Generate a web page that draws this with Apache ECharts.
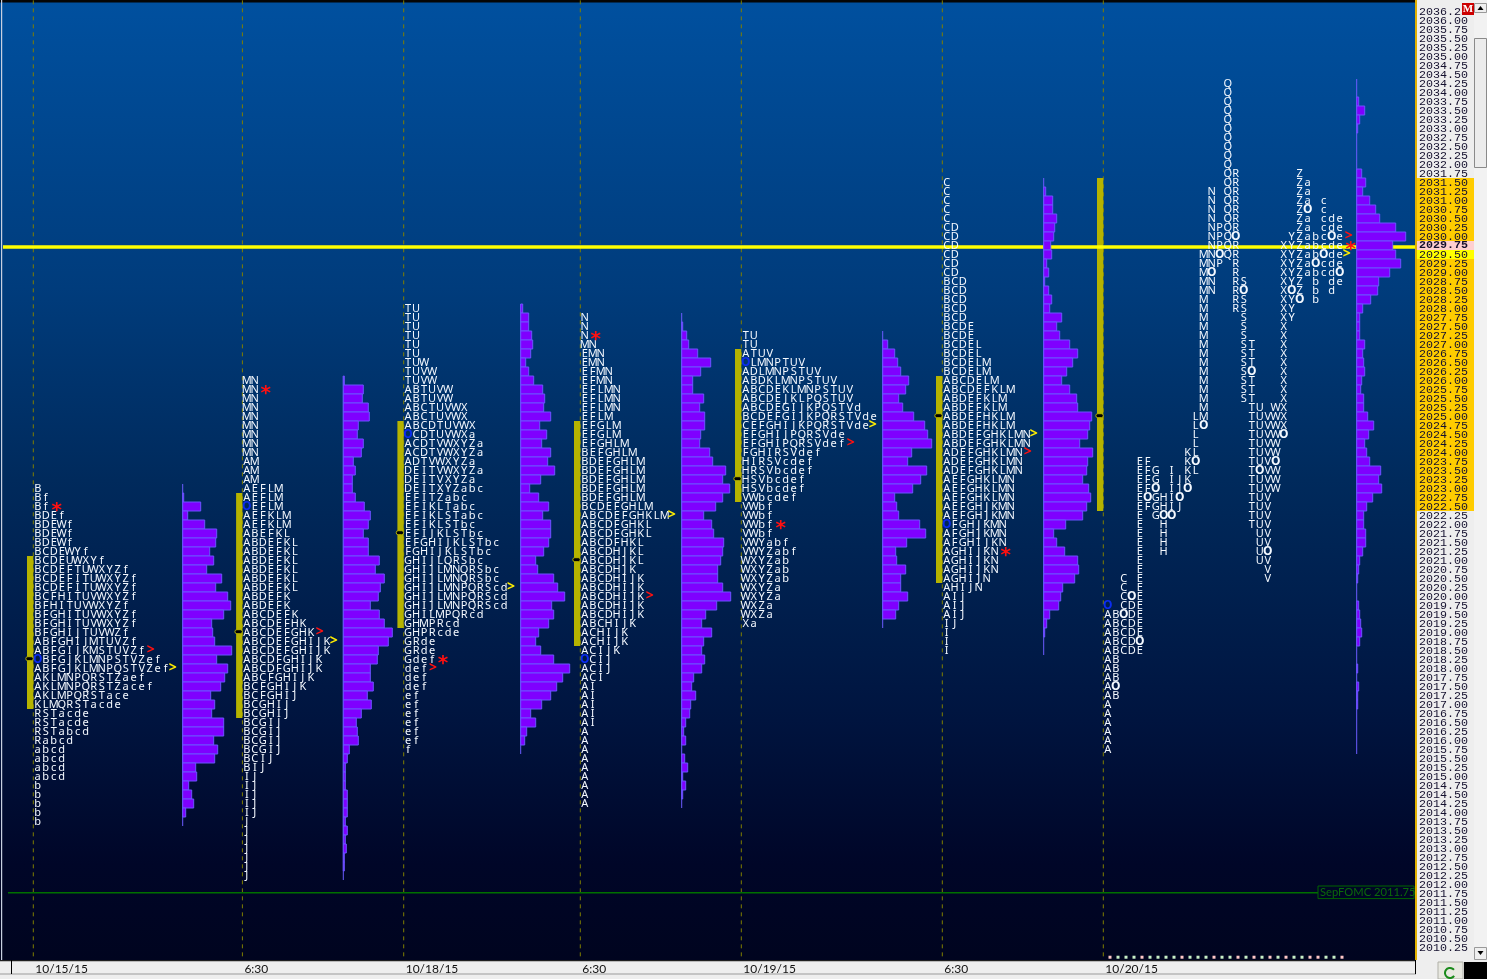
<!DOCTYPE html>
<html><head><meta charset="utf-8">
<style>html,body{margin:0;padding:0;background:#f0f0f0;overflow:hidden}#c{width:1487px;height:979px}</style>
<script src="https://cdn.jsdelivr.net/npm/echarts@6/dist/echarts.min.js"></script>
</head><body><div id="c"></div>
<script>
// ---- data ----
const sessionLabels = ['10/15/15','6:30','10/18/15','6:30','10/19/15','6:30','10/20/15'];
const rowTop = [2023, 2026, 2028, 2027.75, 2027.25, 2031.5, 2034.25];

const rows1 = ['B','Bf','Bf','BDEf','BDEWf','BDEWf','BDEWf','BCDEWYf','BCDEUWXYf','BCDEFTUWXYZf','BCDEFITUWXYZf','BCDEFITUWXYZf','BCFHITUVWXYZf','BFHITUVWXYZf','BFGHITUVWXYZf','BFGHITUVWXYZf','BFGHIJTUVWZf','ABFGHIJMTUVZf','ABFGIJKMSTUVZf','?BFGJKLMNPSTVZef','ABFGJKLMNPQSTVZef','AKLMNPQRSTZaef','AKLMNPQRSTZacef','AKLMPQRSTace','KLMQRSTacde','RSTacde','RSTacde','RSTabcd','Rabcd','abcd','abcd','abcd','abcd','b','b','b','b','b'];
const bars1 = [0,1,18,5,22,34,33,27,31,24,39,33,45,48,41,29,30,32,49,34,45,42,38,28,32,29,41,41,31,35,32,13,14,6,9,11,3,0];

const rows2 = ['MN','MN','MN','MN','MN','MN','MN','MN','MN','AM','AM','AM','AEFLM','AEFLM','?EFLM','AEFKLM','AEFKLM','ABEFKL','ABDEFKL','ABDEFKL','ABDEFKL','ABDEFKL','ABDEFKL','ABDEFKL','ABDEFK','ABDEFK','ABCDEFK','ABCDEFHK','ABCDEFGHK','ABCDEFGHIJK','ABCDEFGHIJK','ABCDFGHIJK','ABCDFGHIJK','ABCFGHIJK','BCFGHIJK','BCFGHIJ','BCGHIJ','BCGHIJ','BCGIJ','BCGIJ','BCGIJ','BCGIJ','BCIJ','BIJ','IJ','IJ','IJ','IJ','IJ','J','J','J','J','J','J','J'];
const bars2 = [1,20,19,25,26,15,14,20,18,10,12,9,9,12,21,27,25,20,25,25,36,32,41,37,35,27,36,41,49,45,35,34,27,27,30,24,28,18,13,14,15,6,4,2,2,2,4,4,4,2,4,2,3,1,1,0];

const rows3 = ['TU','TU','TU','TU','TU','TU','TUW','TUVW','TUVW','ABTUVW','ABTUVW','ABCTUVWX','ABCTUVWX','ABCDTUVWX','?CDTUVWXa','ACDTVWXYZa','ACDTVWXYZa','ADTVWXYZa','DEITVWXYZa','DEITVXYZa','DEITXYZabc','EFITZabc','EFIKLTabc','EFIKLSTabc','EFIKLSTbc','EFIJKLSTbc','EFGHIJKLSTbc','FGHIJKLSTbc','GHIJLQRSbc','GHIJLMNQRSbc','GHIJLMNQRSbc','GHIJLMNPQRScd','GHIJLMNPQRScd','GHIJLMNPQRScd','GHILMPQRcd','GHMPRcd','GHPRcde','GRde','GRde','Gdef','def','def','def','ef','ef','ef','ef','ef','ef','f'];
const bars3 = [2,8,8,11,12,10,5,8,13,22,24,23,30,19,26,21,30,27,34,20,9,18,28,22,30,30,28,23,15,17,33,37,44,31,33,28,18,15,20,33,49,42,36,30,21,10,15,6,4,0];

const rows4 = ['N','N','N','MN','EMN','EMN','EFMN','EFMN','EFLMN','EFLMN','EFLMN','EFLM','EFGLM','EFGLM','EFGHLM','BEFGHLM','BDEFGHLM','BDEFGHLM','BDEFGHLM','BDEFGHLM','BDEFGHLM','BCDEFGHLM','ABCDEFGHKLM','ABCDFGHKL','ABCDFGHKL','ABCDFHKL','ABCDHJKL','ABCDHJKL','ABCDHJK','ABCDHIJK','ABCDHIJK','ABCDHIJK','ABCDHIJK','ABCDHIJK','ABCHIJK','ACHIJK','ACHIJK','ACIJK','?CIJ','ACIJ','ACI','AI','AI','AI','AI','AI','A','A','A','A','A','A','A','A','A'];
const bars4 = [0,1,5,7,16,29,19,11,11,22,18,23,23,19,18,28,31,44,41,48,41,34,22,30,32,42,41,39,36,36,41,49,35,24,20,30,22,20,23,20,12,10,14,9,8,4,2,4,0,3,6,1,4,1,0];

const rows5 = ['TU','TU','ATUV','?LMNPTUV','ADLMNPSTUV','ABDKLMNPSTUV','ABCDEKLMNPSTUV','ABCDEJKLPQSTUV','ABCDEGIJKPQSTVd','BCDEFGIJKPQRSTVde','CEFGHIJKPQRSTVde','EFGHIJPQRSVde','EFGHIPQRSVdef','FGHIRSVdef','HIRSVcdef','HRSVbcdef','HSVbcdef','HSVbcdef','VWbcdef','VWbf','VWbf','VWbf','VWbf','VWYabf','VWYZabf','WXYZab','WXYZab','WXYZab','WXYZa','WXYZa','WXZa','WXZa','Xa'];
const bars5 = [0,5,12,15,18,26,23,16,20,31,42,45,49,29,25,44,38,30,12,14,16,37,43,24,13,14,23,18,18,25,16,13,0];

const rows6 = ['C','C','C','C','C','CD','CD','CD','CD','CD','CD','BCD','BCD','BCD','BCD','BCD','BCDE','BCDE','BCDEL','BCDEL','BCDELM','BCDELM','ABCDELM','ABCDEFKLM','ABDEFKLM','ABDEFKLM','ABDEFHKLM','ABDEFHKLM','ABDEFGHKLMN','ABDEFGHKLMN','ADEFGHKLMN','ADEFGHKLMN','ADEFGHKLMN','AEFGHKLMN','AEFGHKLMN','AEFGHKLMN','AEFGHJKMN','AEFGHJKMN','?FGHJKMN','AFGHJKMN','AFGHIJKN','AGHIJKN','AGHIJKN','AGHIJKN','AGHIJN','AHIJN','AIJ','AIJ','AIJ','IJ','I','I','I'];
const bars6 = [0,2,9,9,13,11,10,7,8,3,5,1,5,8,6,18,13,16,26,34,29,23,18,26,33,34,48,46,44,36,49,44,43,39,45,47,43,39,22,10,13,21,34,35,31,19,17,15,6,3,1,0,0];

// session 7 is split: each letter keeps its own period column; ! = period marker O in that column, ? = open marker
const periodColumns = 'ABCDEFGHIJKLMNPQRSTUVWXYZabcde';
const rows7 = ['Q','Q','Q','Q','Q','Q','Q','Q','Q','Q','QRZ','QRZa','NQRZa','NQRZac','NQRZ!ac','NQRZacde','NPQRZacde','NPQ!RYZabc!de','NPQRXYZabcde','MN!PQRXYZab!cde','MNPRXYZa!bcde','M!NRXYZabcd!e','MNRSXYZbde','MNR!SX!YZbd','MRSXY!Zb','MRSXY','MSXY','MSX','MSX','MSTX','MSTX','MSTX','MS!TX','MSTX','MSTX','MSTX','MTUWX','LMTUVWX','L!MTUVWX','LTUVW!X','LTUVW','KLTUVW','EFK!LTUV!W','EFGIKLT!UVW','EFGIJKTUVW','EF!GIJ!KTUVW','E!FGHI!JTUV','EFGHIJTUV','EG!H!ITUV','EHTUV','EHUV','EHUV','EHU!V','EUV','EV','CEV','CE','C!DE','?CDE','AB!CDE','ABCDE','ABCDE','ABCD!E','ABCDE','AB','AB','AB','A!B','AB','A','A','A','A','A','A'];
const bars7 = [0,0,2,8,3,1,0,0,0,0,5,9,6,13,19,23,39,49,36,39,44,33,22,21,14,6,3,3,3,8,6,7,8,5,4,7,7,11,17,12,8,10,13,24,22,25,16,10,7,7,9,9,6,3,2,1,0,0,2,3,4,5,3,0,0,1,0,2,1,1,0,0,0,0,0];

const vaHigh = [2021.125, 2022.875, 2024.875, 2024.875, 2026.875, 2026.125, 2031.625];
const vaLow  = [2016.875, 2016.625, 2019.125, 2018.625, 2022.625, 2020.375, 2022.375];
const vaPoc  = [2018.25, 2019, 2021.75, 2021, 2023.25, 2025, 2025];

const redStars    = [2022.5, 2025.75, 2018.25, 2027.25, 2022, 2021.25, 2029.75];
const redArrows   = [2018.5, 2019, 2018, 2020, 2024.25, 2024, 2030];
const yellowArrows= [2018, 2018.75, 2020.25, 2022.25, 2024.75, 2024.5, 2029.5];

const lastPrice = 2029.75;
const refLevel = 2011.75, refName = 'SepFOMC 2011.75';
const goldHigh = 2031.5, goldLow = 2022.5, nextPrice = 2029.5;
const periodDotKinds = [1,0,0,0,1,0,0,0,0,1,0,0,0,1,0,0,1,0,1,0,1,0,1,0,0,1,1,0,0,1]; // 1 pink, 0 green

// ---- layout on the x axis (session placement) ----
const sessionX = [33.3, 242.4, 403.7, 580.3, 741.3, 942.3, 1103.3];
const histX = [182.7, 343.3, 520.7, 681.7, 882.7, 1043.7, 1356.7];
const allRows = [rows1,rows2,rows3,rows4,rows5,rows6,rows7];
const allBars = [bars1,bars2,bars3,bars4,bars5,bars6,bars7];
const CELL = 8, OFFS = 4.4, TICK = 0.25;

// build marks
const letters = [], histRects = [], stems = [], markers = [];
allRows.forEach((rows, s) => {
  const top = rowTop[s], split = s === 6;
  const lens = {};
  rows.forEach((row, r) => {
    const price = top - r * TICK;
    let cell = 0, maxCell = 0, bold = false;
    for (const ch of row) {
      if (ch === '!') { bold = true; continue; }
      let col = cell, text = ch, kind = 0;
      if (ch === '?') { text = 'O'; kind = 2; col = split ? 0 : cell; }
      else {
        if (split) col = periodColumns.indexOf(ch);
        if (bold) { text = 'O'; kind = 1; bold = false; }
      }
      letters.push({ value: [sessionX[s] + OFFS + col * CELL, price], t: text, k: kind });
      cell++; maxCell = Math.max(maxCell, col + 1);
    }
    lens[price] = maxCell;
    const b = allBars[s][r];
    if (b > 0) histRects.push([histX[s], price, b]);
  });
  stems.push([histX[s], top + TICK / 2, top - (rows.length - 1) * TICK - TICK / 2]);
  const col = p => sessionX[s] + OFFS + (lens[p] || 0) * CELL;
  markers.push({ value: [col(redStars[s]) + 3, redStars[s]], t: '*', k: 0 });
  markers.push({ value: [col(redArrows[s]) + 1, redArrows[s]], t: '>', k: 1 });
  markers.push({ value: [col(yellowArrows[s]) - 1, yellowArrows[s]], t: '>', k: 2 });
});

const priceLabel = v => v.toFixed(2);
const chart = echarts.init(document.getElementById('c'), null, { renderer: 'canvas' });

const LETTER_FONT = '11px "Noto Sans"';
const series = [
  { type: 'custom', name: 'sessions', z: 1, silent: true, clip: false, data: sessionX.map(x => [x]),
    encode: { x: 0 },
    renderItem: (p, api) => {
      const a = api.coord([api.value(0), 2036.56]), b = api.coord([api.value(0), 2009.9]);
      return { type: 'line', shape: { x1: a[0], y1: a[1], x2: b[0], y2: b[1] },
        style: { stroke: '#7f7f00', lineWidth: 1, lineDash: [4, 4] } };
    } },
  { type: 'custom', name: 'value area', z: 2, silent: true, clip: false,
    data: sessionX.map((x, i) => [x, vaHigh[i], vaLow[i], vaPoc[i]]),
    encode: { x: 0, y: [1, 2] },
    renderItem: (p, api) => {
      const x = api.value(0), a = api.coord([x, api.value(1)]), b = api.coord([x, api.value(2)]), c = api.coord([x, api.value(3)]);
      return { type: 'group', children: [
        { type: 'rect', shape: { x: a[0] - 6.3, y: a[1], width: 6.3, height: b[1] - a[1] }, style: { fill: '#b5b300' } },
        { type: 'rect', shape: { x: c[0] - 7.5, y: c[1] - 2.8, width: 7.5, height: 4, r: 2 }, style: { fill: '#000', stroke: '#b5b300', lineWidth: 1 } }
      ] };
    } },
  { type: 'custom', name: 'levels', z: 3, silent: true, clip: false,
    data: [[lastPrice, 0], [refLevel, 1]], encode: { y: 0 },
    renderItem: (p, api) => {
      const k = api.value(1), v = api.value(0);
      const y = api.coord([0, v])[1];
      if (k === 0) return { type: 'line', shape: { x1: 3, y1: y + 1.5, x2: 1415, y2: y + 1.5 }, style: { stroke: '#ffff00', lineWidth: 3.5 } };
      return { type: 'group', children: [
        { type: 'line', shape: { x1: 8, y1: y - 0.7, x2: 1318, y2: y - 0.7 }, style: { stroke: '#007000', lineWidth: 1.5 } },
        { type: 'rect', shape: { x: 1318, y: y - 7.5, width: 96, height: 12.6 }, style: { fill: 'transparent', stroke: '#006400', lineWidth: 1 } },
        { type: 'text', x: 1320, y: y - 1, style: { text: refName, fill: '#0a6a0a', font: '11.2px Lato', verticalAlign: 'middle', align: 'left' } }
      ] };
    } },
  { type: 'custom', name: 'histogram stems', z: 4, silent: true, clip: false, data: stems,
    encode: { x: 0, y: [1, 2] },
    renderItem: (p, api) => {
      const a = api.coord([api.value(0), api.value(1)]), b = api.coord([api.value(0), api.value(2)]);
      return { type: 'line', shape: { x1: a[0], y1: a[1], x2: b[0], y2: b[1] }, style: { stroke: '#6a5cff', lineWidth: 1 } };
    } },
  { type: 'custom', name: 'histogram', z: 4, silent: true, clip: false, data: histRects,
    encode: { x: 0, y: 1 },
    renderItem: (p, api) => {
      const x = api.value(0), v = api.value(1), len = api.value(2);
      const a = api.coord([x, v + TICK / 2]), b = api.coord([x + len, v - TICK / 2]);
      return { type: 'rect', shape: { x: a[0], y: a[1], width: b[0] - a[0], height: b[1] - a[1] },
        style: { fill: '#7f00ff', stroke: '#6a55ff', lineWidth: 1 } };
    } },
  { type: 'custom', name: 'letters', z: 5, silent: true, clip: false, data: letters,
    encode: { x: 0, y: 1 }, progressive: 0,
    renderItem: (p, api) => {
      const d = letters[p.dataIndex], c = api.coord([api.value(0), api.value(1)]);
      const fill = d.k === 2 ? '#0a2cf0' : '#f4f9ff';
      const font = d.k === 0 ? LETTER_FONT : 'bold 12px "Noto Sans"';
      return { type: 'text', x: c[0], y: c[1], style: { text: d.t, fill, font, align: 'center', verticalAlign: 'middle' } };
    } },
  { type: 'custom', name: 'markers', z: 6, silent: true, clip: false, data: markers,
    encode: { x: 0, y: 1 },
    renderItem: (p, api) => {
      const d = markers[p.dataIndex], c = api.coord([api.value(0), api.value(1)]);
      const star = d.k === 0;
      return { type: 'text', x: c[0], y: c[1] + (star ? 4 : 0), style: { text: d.t,
        fill: d.k === 2 ? '#ffee00' : '#ff1010', font: star ? 'bold 20px "DejaVu Sans"' : 'bold 14px "Noto Sans"',
        align: 'center', verticalAlign: 'middle' } };
    } },
  { type: 'custom', name: 'price strips', z: 1, silent: true, clip: false,
    data: [[goldHigh, goldLow, 0], [lastPrice, lastPrice, 1], [nextPrice, nextPrice, 2]],
    encode: { y: [0, 1] },
    renderItem: (p, api) => {
      const a = api.coord([1417, api.value(0) + TICK / 2]), b = api.coord([1474, api.value(1) - TICK / 2]);
      const k = api.value(2);
      return { type: 'rect', shape: { x: a[0], y: a[1], width: b[0] - a[0], height: b[1] - a[1] },
        style: { fill: ['#ffcc00', '#ffd0d0', '#ffff00'][k] } };
    } },
  { type: 'custom', name: 'period dots', z: 5, silent: true, clip: false,
    data: periodDotKinds.map((k, i) => [1110 + i * CELL, 2009.98, k]), encode: { x: 0, y: 1 },
    renderItem: (p, api) => {
      const c = api.coord([api.value(0), api.value(1)]);
      return { type: 'rect', shape: { x: c[0] - 1.5, y: c[1] - 1.5, width: 3, height: 3 },
        style: { fill: api.value(2) ? '#ffc8c8' : '#c8f0c8' } };
    } }
];

const g = [
  { type: 'rect', z: -2, shape: { x: 0, y: 0, width: 1415, height: 960 }, style: { fill: new echarts.graphic.LinearGradient(0, 0, 0, 1, [
    { offset: 0, color: '#00509f' }, { offset: 0.3, color: '#003c7c' }, { offset: 0.5, color: '#002a5c' }, { offset: 0.75, color: '#00143f' }, { offset: 0.9, color: '#000628' }, { offset: 1, color: '#00041f' } ]) } },
  { type: 'rect', z: -1, shape: { x: 0, y: 0, width: 1415, height: 2.5 }, style: { fill: '#050505' } },
  { type: 'rect', z: -1, shape: { x: 1, y: 0, width: 1.2, height: 960 }, style: { fill: '#c8d0e0' } },
  { type: 'rect', z: -2, shape: { x: 1415, y: 0, width: 2, height: 960 }, style: { fill: '#e0b000' } },
  { type: 'rect', z: -2, shape: { x: 1417, y: 0, width: 57, height: 960 }, style: { fill: '#eeeeee' } },
  { type: 'rect', z: -2, shape: { x: 1474, y: 0, width: 13, height: 960 }, style: { fill: '#f2f2f2' } },
  { type: 'rect', z: 90, shape: { x: 0, y: 960, width: 1487, height: 19 }, style: { fill: '#eeeeee' } },
  { type: 'rect', z: 91, shape: { x: 0, y: 960, width: 1416, height: 1.2 }, style: { fill: '#202020' } },
  { type: 'rect', z: 91, shape: { x: 0, y: 973.5, width: 1416, height: 1 }, style: { fill: '#9a9a9a' } },
  { type: 'rect', z: 91, shape: { x: 11, y: 960, width: 1, height: 14 }, style: { fill: '#000' } },
  { type: 'rect', z: 91, shape: { x: 1415, y: 960, width: 1, height: 14 }, style: { fill: '#000' } },
  { type: 'rect', z: 91, shape: { x: 1438, y: 962, width: 25, height: 17 }, style: { fill: '#e8e8e0', stroke: '#b0b0a8' } },
  { type: 'rect', z: 91, shape: { x: 1464, y: 962, width: 23, height: 17 }, style: { fill: '#000' } },
  { type: 'arc', z: 92, shape: { cx: 1450, cy: 973, r: 5, startAngle: 0.6, endAngle: 5.6 }, style: { fill: 'none', stroke: '#1a8a1a', lineWidth: 2 } },
  { type: 'rect', z: 91, shape: { x: 1462, y: 3, width: 12, height: 12 }, style: { fill: '#cc0000' } },
  { type: 'text', z: 92, x: 1468, y: 9, style: { text: 'M', fill: '#fff', font: 'bold 11px "Liberation Serif"', align: 'center', verticalAlign: 'middle' } },
  { type: 'rect', z: 91, shape: { x: 1474.5, y: 3.5, width: 12, height: 9 }, style: { fill: '#efefef', stroke: '#9a9a9a' } },
  { type: 'polygon', z: 92, shape: { points: [[1480.5, 6], [1477.5, 10], [1483.5, 10]] }, style: { fill: '#000' } },
  { type: 'rect', z: 91, shape: { x: 1474.5, y: 38.5, width: 12, height: 129 }, style: { fill: '#ececec', stroke: '#8a8a8a' } },
  { type: 'rect', z: 91, shape: { x: 1474.5, y: 947.5, width: 12, height: 12 }, style: { fill: '#efefef', stroke: '#9a9a9a' } },
  { type: 'polygon', z: 92, shape: { points: [[1477.5, 951], [1483.5, 951], [1480.5, 955]] }, style: { fill: '#000' } }
];

chart.setOption({
  animation: false,
  backgroundColor: 'transparent',
  graphic: { elements: g },
  grid: { left: 0, right: 72, top: 2.5, height: 954, containLabel: false },
  xAxis: {
    type: 'value', min: 0, max: 1415, z: 95,
    splitLine: { show: false }, axisLine: { show: false }, axisTick: { show: false },
    axisLabel: { show: true, customValues: sessionX, margin: 7, align: 'left', color: '#111',
      fontFamily: '"Liberation Sans Narrow", Lato', fontSize: 12, padding: [0, 0, 0, 2],
      formatter: v => sessionLabels[sessionX.indexOf(v)] || '' }
  },
  yAxis: {
    type: 'value', position: 'right', min: 2010, max: 2036.5, interval: TICK, z: 10,
    splitLine: { show: false }, axisLine: { show: false }, axisTick: { show: false },
    axisLabel: { show: true, margin: 4, align: 'left', color: '#14102e', hideOverlap: false,
      fontFamily: '"Liberation Mono"', fontSize: 11.67, interval: 0,
      rich: { b: { fontFamily: '"Liberation Mono"', fontSize: 11.67, fontWeight: 'bold', color: '#14102e' } },
      formatter: v => (v === 2036.5 || v === 2010) ? '' : (v === lastPrice ? '{b|' + priceLabel(v) + '}' : priceLabel(v)) }
  },
  series
});
</script></body></html>
